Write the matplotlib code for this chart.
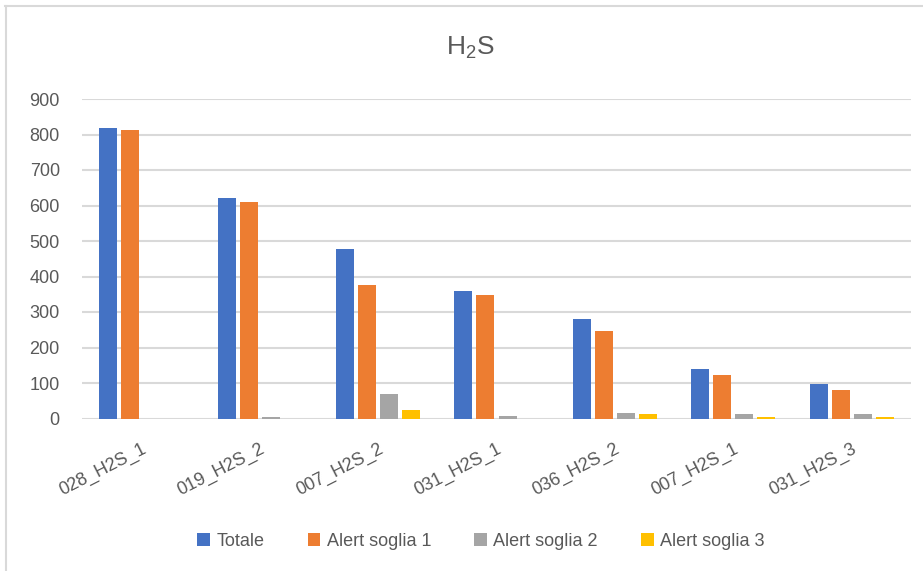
import matplotlib
matplotlib.use("Agg")
import matplotlib.pyplot as plt
import numpy as np
from matplotlib.lines import Line2D

categories = ["028_H2S_1", "019_H2S_2", "007_H2S_2", "031_H2S_1", "036_H2S_2", "007_H2S_1", "031_H2S_3"]
totale = [818, 621, 478, 360, 279, 139, 97]
alert1 = [813, 610, 377, 349, 247, 122, 79]
alert2 = [0, 4, 69, 7, 16, 13, 13]
alert3 = [0, 0, 24, 0, 13, 5, 4]
series_names = ["Totale", "Alert soglia 1", "Alert soglia 2", "Alert soglia 3"]
colors = ["#4472C4", "#ED7D31", "#A5A5A5", "#FFC000"]
yticks = [0, 100, 200, 300, 400, 500, 600, 700, 800, 900]

plt.rcParams['font.family'] = ['Liberation Sans', 'DejaVu Sans']
plt.rcParams['mathtext.default'] = 'regular'

W, H = 923, 571
fig = plt.figure(figsize=(W / 100, H / 100), dpi=100)
ax = fig.add_axes([82 / W, 1 - 418.5 / H, (911 - 82) / W, (418.5 - 99) / H])

x = np.arange(len(categories))
bw = 0.152
step = 0.186
series = [totale, alert1, alert2, alert3]
for i, (vals, name, c) in enumerate(zip(series, series_names, colors)):
    ax.bar(x + (i - 1.5) * step, vals, width=bw, color=c, label=name, zorder=3)

ax.set_xlim(-0.5, len(categories) - 0.5)
ax.set_ylim(0, 900)
ax.set_yticks(yticks)
ax.yaxis.grid(True, color="#d9d9d9", linewidth=1.5, zorder=0)
ax.set_axisbelow(True)
for s in ax.spines.values():
    s.set_visible(False)
ax.tick_params(axis='both', length=0, colors="#595959", labelsize=13)
ax.tick_params(axis='y', pad=16)
ax.set_xticks(x)
ax.set_xticklabels(categories, rotation=27, ha='right', rotation_mode='anchor')
ax.tick_params(axis='x', pad=16)

fig.text(470 / W, 1 - 48 / H, "H$_2$S", ha='center', va='center', fontsize=19, color="#595959")

fig.legend(loc='center', bbox_to_anchor=(481 / W, 1 - 541 / H), ncol=4, frameon=False,
           fontsize=13, handlelength=0.7, handleheight=0.7, handletextpad=0.35,
           columnspacing=2.4, labelcolor="#595959")

fig.add_artist(Line2D([5 / W, 1], [1 - 6 / H, 1 - 6 / H], color="#d9d9d9", linewidth=1.5, transform=fig.transFigure))
fig.add_artist(Line2D([6 / W, 6 / W], [0, 1 - 6 / H], color="#d9d9d9", linewidth=1.5, transform=fig.transFigure))

fig.savefig("out.png", dpi=100)
